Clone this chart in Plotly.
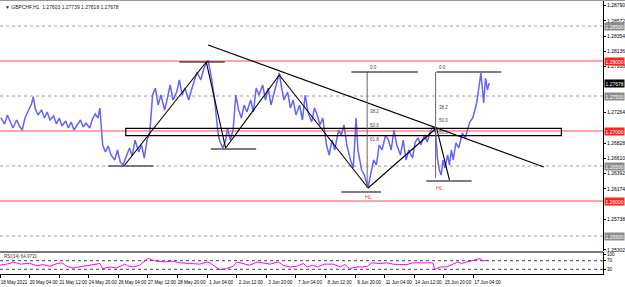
import plotly.graph_objects as go

# ---------------- data ----------------
bars = [1, 5, 8, 11, 14, 18, 21, 24, 27, 31, 34, 36, 38, 41, 45, 48, 51, 54, 58, 61, 64, 67, 71, 74, 77, 80,
        84, 87, 90, 93, 97, 100, 103, 106, 108, 111, 114, 117, 120, 124, 127, 130, 133, 137, 140, 143, 146,
        150, 153, 156, 159, 162, 165, 168, 171, 174, 178, 181, 184, 187, 191, 194, 197, 200, 204, 207, 210,
        213, 217, 220, 223, 225, 227, 229, 232, 234, 236, 238, 241, 244, 246, 249, 252, 255, 258, 261, 264,
        267, 271, 274, 277, 280, 284, 287, 290, 293, 297, 300, 302, 304, 307, 311, 314, 317, 320, 324, 327,
        330, 333, 337, 340, 343, 346, 349, 353, 356, 359, 362, 366, 369, 372, 375, 379, 382, 385, 387, 391,
        394, 396, 398, 400, 404, 407, 410, 413, 417, 420, 423, 426, 429, 433, 436, 439, 442, 446, 449, 452,
        455, 459, 462, 465, 468, 471, 473, 475, 477, 479, 481, 484, 486, 488, 490, 493, 496, 500, 503, 506,
        508, 511, 513, 515, 517, 519, 520, 523, 525, 527, 529]
close = [1.27186, 1.27100, 1.27229, 1.27129, 1.27043, 1.27157, 1.27071, 1.27014, 1.27186, 1.27300, 1.27386,
         1.27486, 1.27329, 1.27229, 1.27300, 1.27186, 1.27271, 1.27157, 1.27214, 1.27100, 1.27186, 1.27071,
         1.27143, 1.27043, 1.27129, 1.27014, 1.27086, 1.27157, 1.27057, 1.27114, 1.27043, 1.27171, 1.27243,
         1.27186, 1.27329, 1.26800, 1.26700, 1.26786, 1.26657, 1.26586, 1.26729, 1.26557, 1.26514, 1.26657,
         1.26757, 1.26643, 1.26871, 1.26700, 1.26800, 1.26614, 1.26871, 1.26986, 1.27514, 1.27614, 1.27371,
         1.27514, 1.27300, 1.27471, 1.27657, 1.27443, 1.27557, 1.27729, 1.27514, 1.27614, 1.27443, 1.27586,
         1.27700, 1.27843, 1.27729, 1.27871, 1.27971, 1.28014, 1.27871, 1.27729, 1.27443, 1.27157, 1.26943,
         1.26843, 1.26757, 1.26871, 1.27043, 1.26871, 1.27014, 1.27514, 1.27300, 1.27186, 1.27371, 1.27271,
         1.27443, 1.27271, 1.27614, 1.27514, 1.27657, 1.27443, 1.27614, 1.27371, 1.27586, 1.27757, 1.27829,
         1.27657, 1.27443, 1.27557, 1.27329, 1.27443, 1.27229, 1.27371, 1.27157, 1.27514, 1.27271, 1.27129,
         1.27329, 1.27229, 1.27086, 1.27186, 1.26800, 1.26657, 1.26871, 1.26729, 1.27014, 1.26943, 1.27086,
         1.26800, 1.26586, 1.26471, 1.27186, 1.26729, 1.26443, 1.26371, 1.26271, 1.26186, 1.26329, 1.26586,
         1.26514, 1.26800, 1.26729, 1.26943, 1.26871, 1.26729, 1.27014, 1.26800, 1.26657, 1.26871, 1.26586,
         1.26729, 1.26614, 1.26843, 1.26900, 1.26800, 1.26943, 1.26843, 1.26986, 1.27057, 1.26971, 1.26614,
         1.26443, 1.26371, 1.26586, 1.26471, 1.26657, 1.26514, 1.26729, 1.26586, 1.26829, 1.26757, 1.26971,
         1.26900, 1.27043, 1.27129, 1.27186, 1.27271, 1.27371, 1.27543, 1.27729, 1.27829, 1.27400, 1.27757,
         1.27586, 1.27686]

rsi_bars = [0, 11, 14, 22, 32, 40, 46, 54, 62, 67, 72, 79, 86, 94, 101, 108, 111, 119, 126, 135, 138, 144,
            151, 160, 168, 178, 186, 195, 205, 216, 224, 227, 232, 238, 245, 252, 256, 265, 270, 278, 284,
            292, 301, 306, 313, 321, 328, 332, 338, 343, 351, 360, 368, 373, 378, 386, 392, 397, 402, 411,
            418, 425, 432, 440, 446, 454, 462, 468, 470, 476, 483, 490, 495, 499, 505, 511, 517, 519, 522, 527]
rsi_vals = [49, 57, 64, 54, 58, 46, 52, 44, 57, 60, 44, 36, 41, 46, 52, 57, 33, 41, 36, 54, 46, 41, 49, 80,
            69, 64, 68, 60, 57, 54, 64, 60, 44, 29, 33, 44, 64, 54, 49, 64, 60, 54, 64, 49, 41, 44, 57, 41,
            49, 41, 54, 54, 41, 52, 33, 41, 41, 44, 60, 57, 60, 54, 52, 52, 60, 60, 57, 60, 29, 41, 41, 54,
            64, 57, 64, 69, 76, 80, 69, 72]

x_tick_bars = [0, 32, 64, 96, 128, 160, 192, 224, 256, 288, 320, 352, 384, 416, 448, 480, 512]
x_tick_text = ["18 May 2021", "20 May 04:00", "21 May 12:00", "24 May 20:00", "26 May 04:00",
               "27 May 12:00", "28 May 20:00", "1 Jun 04:00", "2 Jun 12:00", "3 Jun 20:00",
               "7 Jun 04:00", "8 Jun 12:00", "9 Jun 20:00", "11 Jun 04:00", "14 Jun 12:00",
               "15 Jun 20:00", "17 Jun 04:00"]

y_tick_vals = [1.28790, 1.28572, 1.28354, 1.28136, 1.27918, 1.27264, 1.26828, 1.26610, 1.26392,
               1.26174, 1.25738, 1.25302]

red_levels = [1.28000, 1.27000, 1.26000]
grey_levels = [1.28500, 1.27500, 1.26500, 1.25500]
last_price = 1.27678
header = "▼ GBPCHF,H1  1.27603 1.27739 1.27618 1.27678"
rsi_label = "RSI(14) 64.9731"

# drawing objects (bar index, price)
trend_x = [225, 588]
trend_y = [1.28229, 1.26486]
zig_x = [134, 223, 244, 302, 398, 472, 486]
zig_y = [1.26500, 1.27986, 1.26757, 1.27800, 1.26186, 1.27043, 1.26300]
swing_segments = [  # x0, x1, price, color
    (117, 166, 1.26500, "#555555"),
    (194, 243, 1.27986, "black"),
    (228, 277, 1.26743, "black"),
    (369, 412, 1.26129, "#555555"),
    (461, 510, 1.26286, "black"),
]
rect_x = [136, 607]
rect_y = [1.26933, 1.27038]
fibs = [  # vertical bar, high, low, zero-line x0, x1
    (397, 1.27843, 1.26186, 380, 452),
    (471, 1.27843, 1.26329, 472, 542),
]
fib_levels = [0.0, 38.2, 50.0, 61.8]
hl_labels = [(398, 1.26057), (475, 1.26186)]

# ---------------- layout geometry ----------------
W, H = 625, 287
xdom = [0, 603 / W]
main_dom = [1 - 251 / H, 1]
rsi_dom = [1 - 274 / H, 1 - 252 / H]
FONT = "Liberation Sans, Arial, sans-serif"

fig = go.Figure()
fig.add_trace(go.Scatter(x=bars, y=close, mode="lines", line=dict(color="rgb(100,100,245)", width=1.5),
                         xaxis="x", yaxis="y", hoverinfo="skip", showlegend=False))
fig.add_trace(go.Scatter(x=rsi_bars, y=rsi_vals, mode="lines", line=dict(color="#ff00ff", width=1),
                         xaxis="x", yaxis="y2", hoverinfo="skip", showlegend=False))

shapes = []
ann = []

for lv in grey_levels:
    shapes.append(dict(type="line", xref="x domain", yref="y", x0=0, x1=1, y0=lv, y1=lv,
                       line=dict(color="#9a9a9a", width=1, dash="dot"), layer="below"))
for lv in red_levels:
    shapes.append(dict(type="line", xref="x domain", yref="y", x0=0, x1=1, y0=lv, y1=lv,
                       line=dict(color="#ff4a4a", width=1)))

# rectangle
shapes.append(dict(type="rect", xref="x", yref="y", x0=rect_x[0], x1=rect_x[1], y0=rect_y[0], y1=rect_y[1],
                   line=dict(color="black", width=1.2), fillcolor="rgba(0,0,0,0)"))
# trend line
shapes.append(dict(type="line", xref="x", yref="y", x0=trend_x[0], x1=trend_x[1], y0=trend_y[0], y1=trend_y[1],
                   line=dict(color="black", width=1.2)))
# zigzag
for i in range(len(zig_x) - 1):
    shapes.append(dict(type="line", xref="x", yref="y", x0=zig_x[i], x1=zig_x[i + 1], y0=zig_y[i], y1=zig_y[i + 1],
                       line=dict(color="black", width=1.1)))
# swing segments
for x0, x1, p, c in swing_segments:
    shapes.append(dict(type="line", xref="x", yref="y", x0=x0, x1=x1, y0=p, y1=p,
                       line=dict(color=c, width=1.5 if c != "black" else 1.2)))
# fibs
for vx, hi, lo, zx0, zx1 in fibs:
    shapes.append(dict(type="line", xref="x", yref="y", x0=vx, x1=vx, y0=hi, y1=lo,
                       line=dict(color="#666666", width=1)))
    shapes.append(dict(type="line", xref="x", yref="y", x0=zx0, x1=zx1, y0=hi, y1=hi,
                       line=dict(color="black", width=1.2)))
    for lvl in fib_levels:
        price = hi - (hi - lo) * lvl / 100.0
        ann.append(dict(x=vx, y=price, xref="x", yref="y", text=f"{lvl:.1f}", showarrow=False,
                        xanchor="left", yanchor="bottom", xshift=1,
                        font=dict(family=FONT, size=4.5, color="#444444")))
for hx, hp in hl_labels:
    ann.append(dict(x=hx, y=hp, xref="x", yref="y", text="HL", showarrow=False, xanchor="center",
                    yanchor="middle", font=dict(family=FONT, size=5.5, color="#ff3030")))

# RSI levels
for lv in [70, 30]:
    shapes.append(dict(type="line", xref="x domain", yref="y2", x0=0, x1=1, y0=lv, y1=lv,
                       line=dict(color="#444444", width=1, dash="dot")))

# panel separator / frame
shapes.append(dict(type="line", xref="paper", yref="paper", x0=0, x1=xdom[1], y0=1 - 252 / H, y1=1 - 252 / H,
                   line=dict(color="#7a7a7a", width=2)))
shapes.append(dict(type="line", xref="paper", yref="paper", x0=0, x1=1, y0=1 - 0.5 / H, y1=1 - 0.5 / H,
                   line=dict(color="#9a9a9a", width=1)))

# price boxes on axis
def price_box(p, bg):
    return dict(x=xdom[1], y=p, xref="paper", yref="y", text=f"{p:.5f}", showarrow=False,
                xanchor="left", yanchor="middle", bgcolor=bg, borderpad=0.5, xshift=0.5,
                font=dict(family=FONT, size=5, color="white"))

for lv in grey_levels:
    ann.append(price_box(lv, "#8c8c8c"))
for lv in red_levels:
    ann.append(price_box(lv, "#ff2020"))
ann.append(price_box(last_price, "black"))

ann.append(dict(x=0.004, y=1 - 7 / H, xref="paper", yref="paper", text=header, showarrow=False,
                xanchor="left", yanchor="middle", font=dict(family=FONT, size=5, color="#222222")))
ann.append(dict(x=0.003, y=1 - 256 / H, xref="paper", yref="paper", text=rsi_label, showarrow=False,
                xanchor="left", yanchor="middle", font=dict(family=FONT, size=4.5, color="#333333")))

fig.update_layout(
    width=W, height=H, autosize=False,
    margin=dict(l=0, r=0, t=0, b=0, pad=0, autoexpand=False),
    paper_bgcolor="white", plot_bgcolor="white",
    showlegend=False,
    shapes=shapes, annotations=ann,
    xaxis=dict(domain=xdom, range=[0, 652], anchor="y2", tickmode="array", tickvals=x_tick_bars,
               ticktext=x_tick_text, ticks="outside", ticklen=3, tickcolor="black", tickwidth=1,
               showline=True, linecolor="black", linewidth=1, showgrid=False, zeroline=False,
               tickangle=0, automargin=False,
               tickfont=dict(family=FONT, size=4.6, color="black"), ticklabelshift=14, ticklabelstandoff=0,
               fixedrange=True),
    yaxis=dict(domain=main_dom, range=[1.252857, 1.288714], anchor="x", side="right", tickmode="array",
               tickvals=y_tick_vals, ticktext=[f"{v:.5f}" for v in y_tick_vals], ticks="outside",
               ticklen=2, tickcolor="black", showline=True, linecolor="black", linewidth=1,
               showgrid=False, zeroline=False, tickfont=dict(family=FONT, size=5, color="black"),
               ticklabelstandoff=0, automargin=False, fixedrange=True),
    yaxis2=dict(domain=rsi_dom, range=[8.1, 110.5], anchor="x", side="right", tickmode="array",
                tickvals=[100, 70, 30], ticktext=["100", "70", "30"], ticks="outside", ticklen=2,
                tickcolor="black", showline=True, linecolor="black", linewidth=1, showgrid=False,
                zeroline=False, tickfont=dict(family=FONT, size=4.5, color="black"), ticklabelstandoff=0,
                automargin=False, fixedrange=True),
)

fig.write_html("out.html", config={"displayModeBar": False})
